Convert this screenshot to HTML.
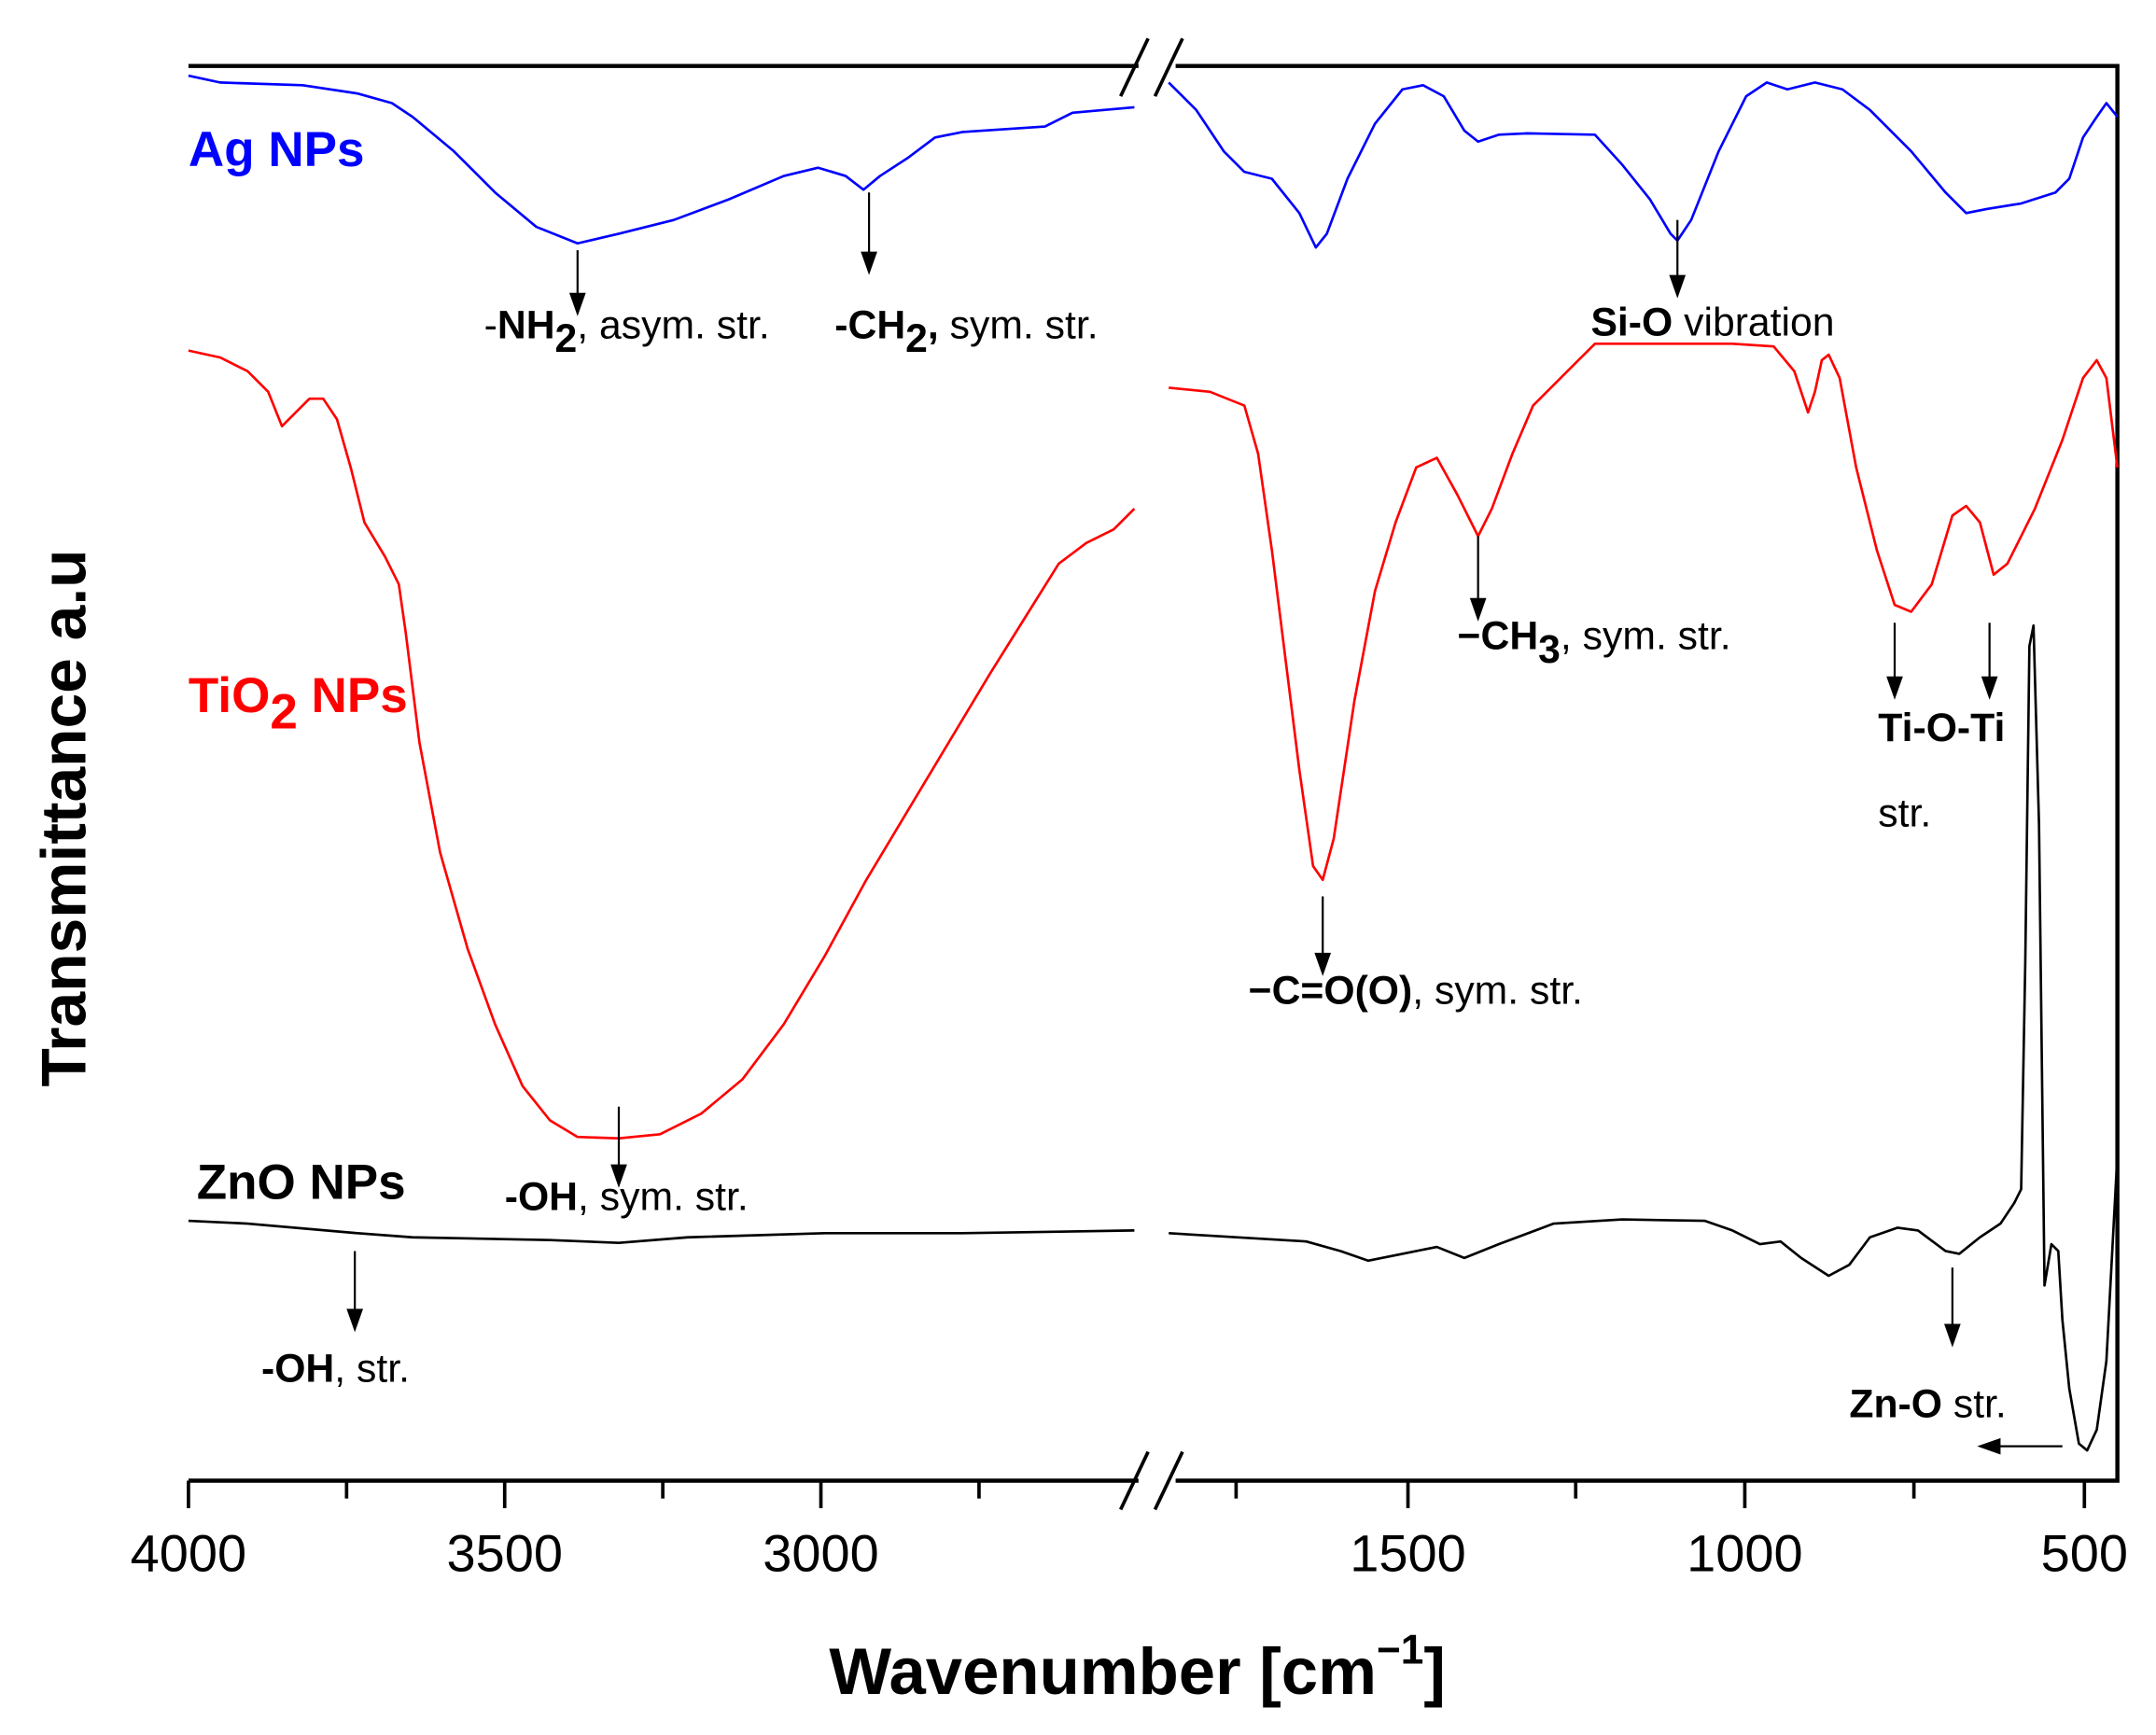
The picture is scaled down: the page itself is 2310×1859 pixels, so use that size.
<!DOCTYPE html>
<html><head><meta charset="utf-8"><style>
html,body{margin:0;padding:0;background:#fff;}
svg{display:block;}
text{font-family:"Liberation Sans",sans-serif;}
</style></head><body>
<svg width="2310" height="1859" viewBox="0 0 1568 1262" xmlns="http://www.w3.org/2000/svg">
<rect width="1568" height="1262" fill="#fff"/>
<g stroke="#000" stroke-width="3" fill="none">
<path d="M137,48 H828 M855,48 H1540 V1077 H855 M828,1077 H137 Z"/>
</g>
<g stroke="#000" stroke-width="2.5">
<line x1="815" y1="70" x2="835" y2="28"/><line x1="840" y1="70" x2="860" y2="28"/>
<line x1="815" y1="1098" x2="835" y2="1056"/><line x1="840" y1="1098" x2="860" y2="1056"/>
<line x1="137" y1="1077" x2="137" y2="1097"/><line x1="367" y1="1077" x2="367" y2="1097"/><line x1="597" y1="1077" x2="597" y2="1097"/>
<line x1="252" y1="1077" x2="252" y2="1090"/><line x1="482" y1="1077" x2="482" y2="1090"/><line x1="712" y1="1077" x2="712" y2="1090"/>
<line x1="1024" y1="1077" x2="1024" y2="1097"/><line x1="1269" y1="1077" x2="1269" y2="1097"/><line x1="1516" y1="1077" x2="1516" y2="1097"/>
<line x1="899" y1="1077" x2="899" y2="1090"/><line x1="1146" y1="1077" x2="1146" y2="1090"/><line x1="1392" y1="1077" x2="1392" y2="1090"/>
</g>
<g font-size="38" text-anchor="middle" fill="#000">
<text x="137" y="1143">4000</text><text x="367" y="1143">3500</text><text x="597" y="1143">3000</text>
<text x="1024" y="1143">1500</text><text x="1269" y="1143">1000</text><text x="1516" y="1143">500</text>
</g>
<text x="603" y="1232" font-size="48" font-weight="bold">Wavenumber [cm<tspan dy="-22" font-size="30">−1</tspan><tspan dy="22">]</tspan></text>
<text transform="translate(62,595) rotate(-90)" font-size="46" font-weight="bold" text-anchor="middle">Transmittance a.u</text>
<g fill="none" stroke-width="1.8" stroke-linejoin="round">
<polyline stroke="#0000ff" points="137,55 160,60 220,62 260,68 285,75 300,85 330,110 360,140 390,165 420,177 450,170 490,160 530,145 570,128 595,122 615,128 628,138 640,128 660,115 680,100 700,96 760,92 780,82 825,78"/>
<polyline stroke="#0000ff" points="850,60 870,80 890,110 905,125 925,130 945,155 957,180 965,170 980,130 1000,90 1020,65 1035,62 1050,70 1065,95 1075,103 1090,98 1110,97 1160,98 1180,120 1200,145 1215,170 1220,175 1230,160 1250,110 1270,70 1285,60 1300,65 1320,60 1340,65 1360,80 1390,110 1415,140 1430,155 1445,152 1470,148 1495,140 1505,130 1515,100 1525,85 1532,75 1540,85"/>
<polyline stroke="#ff0000" points="137,255 160,260 180,270 195,285 205,310 215,300 225,290 235,290 245,305 255,340 265,380 280,405 290,425 295,460 305,540 320,620 340,690 360,745 380,790 400,815 420,827 450,828 480,825 510,810 540,785 570,745 600,695 630,640 660,590 690,540 720,490 745,450 770,410 790,395 810,385 825,370"/>
<polyline stroke="#ff0000" points="850,282 880,285 905,295 915,330 925,400 935,480 945,560 955,630 962,640 970,610 985,510 1000,430 1015,380 1030,340 1045,333 1060,360 1075,390 1085,370 1100,330 1115,295 1135,275 1150,260 1160,250 1200,250 1260,250 1290,252 1305,270 1315,300 1320,285 1325,262 1330,258 1338,275 1350,340 1365,400 1378,440 1390,445 1405,425 1420,375 1430,368 1440,380 1450,418 1460,410 1480,370 1500,320 1515,275 1525,262 1532,275 1540,340"/>
<polyline stroke="#000" points="137,888 180,890 260,897 300,900 400,902 450,904 500,900 600,897 700,897 825,895"/>
<polyline stroke="#000" points="850,897 950,903 975,910 995,917 1020,912 1045,907 1065,915 1090,905 1130,890 1180,887 1240,888 1260,895 1280,905 1295,903 1310,915 1330,928 1345,920 1360,900 1380,893 1395,895 1415,910 1425,912 1440,900 1455,890 1465,875 1470,865 1473,700 1476,470 1479,455 1483,600 1487,935 1492,905 1497,910 1500,960 1505,1010 1512,1050 1518,1055 1525,1040 1532,990 1540,840"/>
</g>
<g stroke="#000" stroke-width="1.5">
<line x1="420" y1="182" x2="420" y2="215"/><line x1="632" y1="140" x2="632" y2="185"/>
<line x1="1220" y1="160" x2="1220" y2="202"/><line x1="1075" y1="390" x2="1075" y2="437"/>
<line x1="962" y1="652" x2="962" y2="695"/><line x1="1378" y1="453" x2="1378" y2="494"/>
<line x1="1447" y1="453" x2="1447" y2="494"/><line x1="450" y1="805" x2="450" y2="849"/>
<line x1="258" y1="910" x2="258" y2="954"/><line x1="1420" y1="922" x2="1420" y2="965"/>
<line x1="1500" y1="1052" x2="1452" y2="1052"/>
</g>
<g fill="#000">
<polygon points="414,213 426,213 420,230"/><polygon points="626,183 638,183 632,200"/>
<polygon points="1214,200 1226,200 1220,217"/><polygon points="1069,435 1081,435 1075,452"/>
<polygon points="956,693 968,693 962,710"/><polygon points="1372,492 1384,492 1378,509"/>
<polygon points="1441,492 1453,492 1447,509"/><polygon points="444,847 456,847 450,864"/>
<polygon points="252,952 264,952 258,969"/><polygon points="1414,963 1426,963 1420,980"/>
<polygon points="1455,1046 1455,1058 1438,1052"/>
</g>
<g font-size="29" fill="#000">
<text x="352" y="246">-<tspan font-weight="bold">NH<tspan dy="10">2</tspan></tspan><tspan dy="-10">, asym. str.</tspan></text>
<text x="607" y="246"><tspan font-weight="bold">-CH<tspan dy="10">2</tspan><tspan dy="-10">,</tspan></tspan> sym. str.</text>
<text x="1157" y="244"><tspan font-weight="bold">Si-O</tspan> vibration</text>
<text x="1060" y="472"><tspan font-weight="bold">−CH<tspan dy="10">3</tspan></tspan><tspan dy="-10">, sym. str.</tspan></text>
<text x="908" y="730"><tspan font-weight="bold">−C=O(O)</tspan>, sym. str.</text>
<text x="1366" y="539" font-weight="bold">Ti-O-Ti</text>
<text x="1366" y="601">str.</text>
<text x="367" y="880"><tspan font-weight="bold">-OH</tspan>, sym. str.</text>
<text x="190" y="1005"><tspan font-weight="bold">-OH</tspan>, str.</text>
<text x="1345" y="1031"><tspan font-weight="bold">Zn-O</tspan> str.</text>
</g>
<text x="137" y="121" font-size="36" font-weight="bold" fill="#0000ff">Ag NPs</text>
<text x="137" y="518" font-size="36" font-weight="bold" fill="#ff0000">TiO<tspan dy="12">2</tspan><tspan dy="-12"> NPs</tspan></text>
<text x="143" y="872" font-size="36" font-weight="bold" fill="#000">ZnO NPs</text>
</svg>
</body></html>
